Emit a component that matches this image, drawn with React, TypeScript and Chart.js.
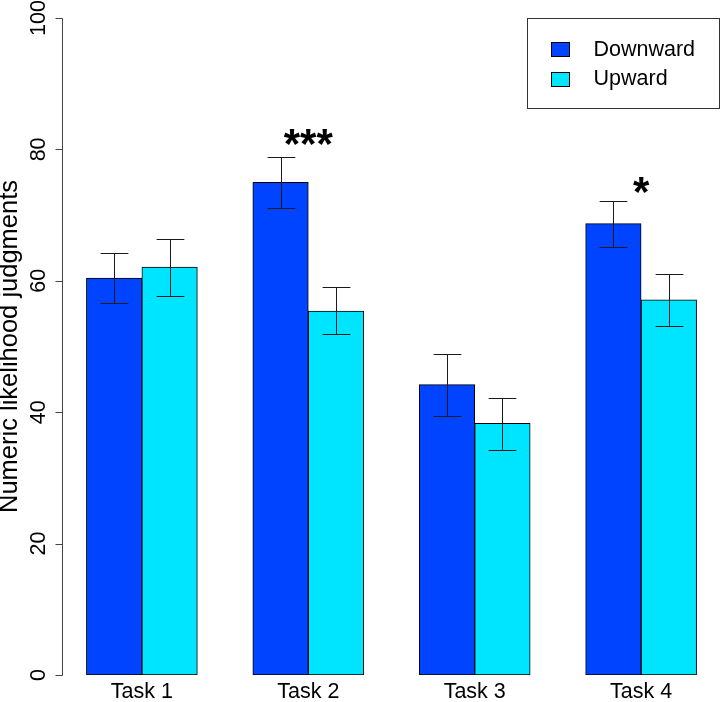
import React, { useEffect, useRef } from 'react';
import { Chart, registerables } from 'chart.js';

Chart.register(...registerables);

// ---- data ----
const categories = ['Task 1', 'Task 2', 'Task 3', 'Task 4'];
const seriesNames = ['Downward', 'Upward'];
const downward = [60.4, 75.0, 44.2, 68.7];
const upward = [62.1, 55.4, 38.3, 57.1];
const downwardLow = [56.6, 71.1, 39.4, 65.1];
const downwardHigh = [64.3, 78.9, 48.9, 72.2];
const upwardLow = [57.7, 51.9, 34.2, 53.1];
const upwardHigh = [66.4, 59.0, 42.2, 61.1];
const sigLabels = ['', '***', '', '*'];
const sigValues = [0, 78.7, 0, 71.4];
const yTicks = [0, 20, 40, 60, 80, 100];
const yTitle = 'Numeric likelihood judgments';

// ---- styling / layout (R barplot: bar width 1, space 1 before each group) ----
const colors = ['#0044FF', '#00E5FF'];
const FONT = '"Liberation Sans", Arial, Helvetica, sans-serif';
const barCenter = (group: number, series: number) => 1 + 3 * group + series + 0.5;
const groupCenter = (group: number) => 2 + 3 * group;

const series = [
  { values: downward, low: downwardLow, high: downwardHigh },
  { values: upward, low: upwardLow, high: upwardHigh },
];

const overlayPlugin = {
  id: 'rOverlay',
  afterDatasetsDraw(chart: any) {
    const ctx = chart.ctx as CanvasRenderingContext2D;
    const xs = chart.scales.x;
    const ys = chart.scales.y;
    const area = chart.chartArea;
    ctx.save();

    // error bars
    ctx.strokeStyle = '#1a1a1a';
    ctx.lineWidth = 1;
    series.forEach((s, d) => {
      s.values.forEach((_, i) => {
        const cx = Math.round(xs.getPixelForValue(barCenter(i, d))) + 0.5;
        const half = xs.getPixelForValue(barCenter(i, d) + 0.25) - xs.getPixelForValue(barCenter(i, d));
        const yl = Math.round(ys.getPixelForValue(s.low[i])) + 0.5;
        const yh = Math.round(ys.getPixelForValue(s.high[i])) + 0.5;
        ctx.beginPath();
        ctx.moveTo(cx, yl);
        ctx.lineTo(cx, yh);
        ctx.moveTo(cx - half, yl);
        ctx.lineTo(cx + half, yl);
        ctx.moveTo(cx - half, yh);
        ctx.lineTo(cx + half, yh);
        ctx.stroke();
      });
    });

    // y axis
    const ax = Math.round(area.left) + 0.5;
    ctx.strokeStyle = '#444';
    ctx.beginPath();
    ctx.moveTo(ax, Math.round(ys.getPixelForValue(yTicks[0])) + 0.5);
    ctx.lineTo(ax, Math.round(ys.getPixelForValue(yTicks[yTicks.length - 1])) + 0.5);
    yTicks.forEach((t) => {
      const ty = Math.round(ys.getPixelForValue(t)) + 0.5;
      ctx.moveTo(ax - 7, ty);
      ctx.lineTo(ax, ty);
    });
    ctx.stroke();

    ctx.fillStyle = '#000';
    ctx.font = `21.5px ${FONT}`;
    ctx.textAlign = 'center';
    ctx.textBaseline = 'middle';
    yTicks.forEach((t) => {
      const ty = ys.getPixelForValue(t);
      ctx.save();
      ctx.translate(area.left - 23, ty);
      ctx.rotate(-Math.PI / 2);
      ctx.fillText(String(t), 0, 0);
      ctx.restore();
    });

    // y title
    ctx.save();
    ctx.font = `25.5px ${FONT}`;
    ctx.translate(10, (area.top + area.bottom) / 2);
    ctx.rotate(-Math.PI / 2);
    ctx.fillText(yTitle, 0, 0);
    ctx.restore();

    // category labels
    ctx.font = `21.5px ${FONT}`;
    categories.forEach((c, i) => {
      ctx.fillText(c, xs.getPixelForValue(groupCenter(i)), area.bottom + 17);
    });

    // significance stars
    ctx.font = `bold 42px ${FONT}`;
    ctx.textBaseline = 'alphabetic';
    sigLabels.forEach((lab, i) => {
      if (!lab) return;
      ctx.fillText(lab, xs.getPixelForValue(groupCenter(i)), ys.getPixelForValue(sigValues[i]));
    });

    // legend box
    const boxRight = Math.round(area.right) - 1.5;
    const boxTop = Math.round(area.top) + 0.5;
    const boxW = 192;
    const boxH = 90;
    ctx.strokeStyle = '#333';
    ctx.lineWidth = 1;
    ctx.strokeRect(boxRight - boxW, boxTop, boxW, boxH);
    ctx.font = `21.5px ${FONT}`;
    ctx.textAlign = 'left';
    ctx.textBaseline = 'middle';
    seriesNames.forEach((name, k) => {
      const cy = boxTop + 30.5 + k * 29.5;
      const sx = Math.round(boxRight - boxW + 23) + 0.5;
      ctx.fillStyle = colors[k];
      ctx.fillRect(sx, Math.round(cy - 7) + 0.5, 18, 14);
      ctx.strokeStyle = '#000';
      ctx.strokeRect(sx, Math.round(cy - 7) + 0.5, 18, 14);
      ctx.fillStyle = '#000';
      ctx.fillText(name, boxRight - boxW + 66, cy + 1);
    });

    ctx.restore();
  },
};

export default function App() {
  const canvasRef = useRef<HTMLCanvasElement | null>(null);

  useEffect(() => {
    const canvas = canvasRef.current;
    if (!canvas) return;
    const chart = new Chart(canvas, {
      type: 'bar',
      data: {
        datasets: series.map((s, d) => ({
          label: seriesNames[d],
          data: s.values.map((v, i) => ({ x: barCenter(i, d), y: v })),
          backgroundColor: colors[d],
          borderColor: '#000',
          borderWidth: 1,
          borderSkipped: false,
          grouped: false,
          categoryPercentage: 1,
          barPercentage: 1,
        })),
      },
      options: {
        responsive: false,
        animation: false,
        devicePixelRatio: 1,
        layout: { padding: { left: 62, right: 0, top: 18, bottom: 27 } },
        scales: {
          x: {
            type: 'linear',
            min: 0.56,
            max: 12.44,
            offset: false,
            display: false,
            afterBuildTicks: (scale: any) => {
              scale.ticks = categories.map((_, i) => ({ value: groupCenter(i) }));
            },
          },
          y: {
            type: 'linear',
            min: 0,
            max: 100,
            display: false,
          },
        },
        plugins: {
          legend: { display: false },
          tooltip: { enabled: false },
        },
      },
      plugins: [overlayPlugin],
    } as any);
    return () => chart.destroy();
  }, []);

  return (
    <div style={{ position: 'absolute', left: 0, top: 0, width: 721, height: 702, background: '#fff' }}>
      <canvas ref={canvasRef} width={721} height={702} style={{ display: 'block' }} />
    </div>
  );
}
